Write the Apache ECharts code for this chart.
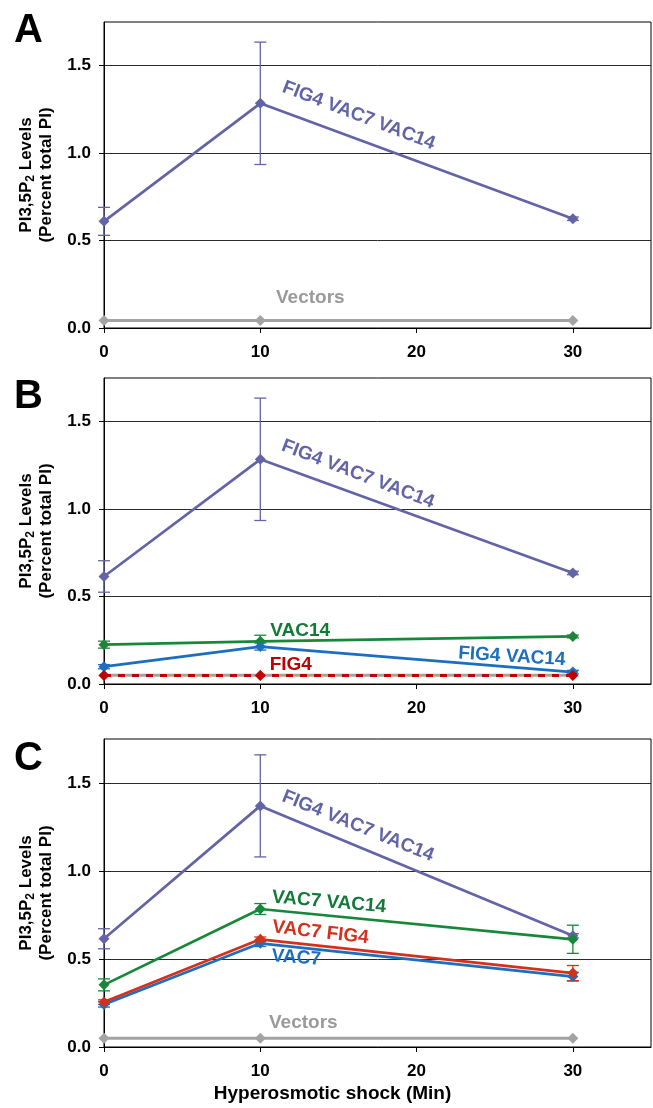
<!DOCTYPE html>
<html>
<head>
<meta charset="utf-8">
<script src="https://cdn.jsdelivr.net/npm/echarts@6/dist/echarts.min.js"></script>
<style>
html,body{margin:0;padding:0;background:#fff;}
#chart{width:653px;height:1108px;}
</style>
</head>
<body>
<div id="chart"></div>
<script>
// ---------- data ----------
const timePoints = [0, 10, 30];
const xTicks = [0, 10, 20, 30];
const yTicks = [0, 0.5, 1.0, 1.5];
const panelLetters = ['A', 'B', 'C'];

// Panel A
const aFig4Vac7Vac14 = [0.61, 1.285, 0.625];
const aFig4Vac7Vac14Err = [0.08, 0.35, 0.01];
const aVectors = [0.043, 0.043, 0.043];

// Panel B
const bFig4Vac7Vac14 = [0.615, 1.285, 0.635];
const bFig4Vac7Vac14Err = [0.09, 0.35, 0.01];
const bVac14 = [0.225, 0.244, 0.272];
const bVac14Err = [0.02, 0.035, 0.008];
const bFig4Vac14 = [0.099, 0.214, 0.068];
const bFig4Vac14Err = [0.012, 0.02, 0.01];
const bFig4 = [0.048, 0.048, 0.048];
const bVectors = [0.05, 0.05, 0.05];

// Panel C
const cFig4Vac7Vac14 = [0.615, 1.37, 0.632];
const cFig4Vac7Vac14Err = [0.057, 0.29, 0.012];
const cVac7Vac14 = [0.353, 0.784, 0.612];
const cVac7Vac14Err = [0.034, 0.031, 0.08];
const cVac7Fig4 = [0.255, 0.612, 0.42];
const cVac7Fig4Err = [0.013, 0.013, 0.043];
const cVac7 = [0.242, 0.589, 0.4];
const cVac7Err = [0.015, 0.018, 0.025];
const cVectors = [0.05, 0.05, 0.05];

// text annotations: [panel, x, y, text, rotate, colorKey]
const annotations = [
  [0, 16.3, 1.215, 'FIG4 VAC7 VAC14', -21, 'purple'],
  [0, 13.2, 0.175, 'Vectors', 0, 'gray'],
  [1, 16.25, 1.2, 'FIG4 VAC7 VAC14', -21, 'purple'],
  [1, 12.55, 0.304, 'VAC14', 0, 'greenText'],
  [1, 26.1, 0.157, 'FIG4 VAC14', -3.5, 'blue'],
  [1, 11.95, 0.11, 'FIG4', 0, 'redB'],
  [2, 16.25, 1.255, 'FIG4 VAC7 VAC14', -22, 'purple'],
  [2, 14.4, 0.823, 'VAC7 VAC14', -5, 'greenText'],
  [2, 13.85, 0.65, 'VAC7 FIG4', -6.5, 'redC'],
  [2, 12.3, 0.507, 'VAC7', -4, 'blue'],
  [2, 12.75, 0.135, 'Vectors', 0, 'gray']
];

// ---------- styles ----------
const FONT = '"Liberation Sans", Arial, Helvetica, sans-serif';
const COLORS = {
  purple: '#6264a7',
  gray: '#a3a3a3',
  grayText: '#9a9a9a',
  green: '#17883a',
  greenText: '#127a36',
  blue: '#1c6ec0',
  redB: '#c00000',
  redC: '#d4311c'
};
const grids = [
  {left: 104, top: 22, width: 547, height: 306},
  {left: 104, top: 378, width: 547, height: 306},
  {left: 104, top: 739, width: 547, height: 308}
];
const letterY = [27, 393, 755];

function pairs(vals) { return timePoints.map((t, i) => [t, vals[i]]); }

function lineSeries(p, vals, color, opts) {
  opts = opts || {};
  return {
    type: 'line',
    xAxisIndex: p, yAxisIndex: p,
    data: pairs(vals),
    symbol: 'diamond',
    symbolSize: opts.symbolSize || 11,
    showSymbol: true,
    lineStyle: {color: color, width: opts.width || 2.7, type: opts.dash || 'solid'},
    itemStyle: {color: color, opacity: 1},
    z: opts.z || 5,
    silent: true,
    animation: false
  };
}

function errSeries(p, vals, errs, color) {
  return {
    type: 'custom',
    xAxisIndex: p, yAxisIndex: p,
    data: timePoints.map((t, i) => [t, vals[i] - errs[i], vals[i] + errs[i]]),
    renderItem: function (params, api) {
      const lo = api.coord([api.value(0), api.value(1)]);
      const hi = api.coord([api.value(0), api.value(2)]);
      const hw = 6;
      const st = {stroke: color, lineWidth: 1.3};
      return {
        type: 'group',
        children: [
          {type: 'line', shape: {x1: lo[0], y1: lo[1], x2: hi[0], y2: hi[1]}, style: st},
          {type: 'line', shape: {x1: lo[0] - hw, y1: lo[1], x2: lo[0] + hw, y2: lo[1]}, style: st},
          {type: 'line', shape: {x1: hi[0] - hw, y1: hi[1], x2: hi[0] + hw, y2: hi[1]}, style: st}
        ]
      };
    },
    z: 4,
    silent: true,
    animation: false
  };
}

function annotationSeries(a) {
  const col = a[5] === 'gray' ? COLORS.grayText : COLORS[a[5]];
  return {
    type: 'scatter',
    xAxisIndex: a[0], yAxisIndex: a[0],
    data: [[a[1], a[2]]],
    symbolSize: 0,
    silent: true,
    animation: false,
    z: 10,
    itemStyle: {opacity: 1},
    label: {
      show: true,
      position: 'inside',
      formatter: a[3],
      rotate: a[4],
      color: col,
      opacity: 1,
      fontFamily: FONT,
      fontWeight: 'bold',
      fontSize: 19
    }
  };
}

const xAxes = grids.map((g, i) => ({
  type: 'value', gridIndex: i, min: 0, max: 35, interval: 10,
  axisLine: {show: true, onZero: false, lineStyle: {color: '#000', width: 1}},
  axisTick: {show: true, length: 5, customValues: xTicks, lineStyle: {color: '#000', width: 1}},
  axisLabel: {
    show: true, margin: 16, customValues: xTicks,
    color: '#000', fontFamily: FONT, fontWeight: 'bold', fontSize: 17,
    formatter: v => (xTicks.indexOf(v) >= 0 ? String(v) : '')
  },
  splitLine: {show: false},
  name: i === 2 ? 'Hyperosmotic shock (Min)' : '',
  nameLocation: 'middle',
  nameGap: 37,
  nameTextStyle: {color: '#000', fontFamily: FONT, fontWeight: 'bold', fontSize: 19, padding: [0, 90, 0, 0]}
}));

const yAxes = grids.map((g, i) => ({
  type: 'value', gridIndex: i, min: 0, max: 1.75, interval: 0.5,
  axisLine: {show: true, onZero: false, lineStyle: {color: '#000', width: 1}},
  axisTick: {show: true, length: 5, customValues: yTicks, lineStyle: {color: '#000', width: 1}},
  axisLabel: {
    show: true, margin: 13, customValues: yTicks,
    color: '#000', fontFamily: FONT, fontWeight: 'bold', fontSize: 17,
    formatter: v => (yTicks.some(t => Math.abs(t - v) < 1e-9) ? v.toFixed(1) : '')
  },
  splitLine: {show: true, lineStyle: {color: '#2a2a2a', width: 1}},
  name: '{t|PI3,5P}{s|2}{t| Levels}\n{t|(Percent total PI)}',
  nameLocation: 'middle',
  nameGap: 47,
  nameTextStyle: {
    color: '#000', fontFamily: FONT, fontWeight: 'bold', fontSize: 17, lineHeight: 20,
    rich: {
      t: {color: '#000', fontFamily: FONT, fontWeight: 'bold', fontSize: 17, lineHeight: 20},
      s: {color: '#000', fontFamily: FONT, fontWeight: 'bold', fontSize: 12, lineHeight: 12, verticalAlign: 'bottom'}
    }
  }
}));

const series = [
  // Panel A
  lineSeries(0, aVectors, COLORS.gray, {width: 3}),
  errSeries(0, aFig4Vac7Vac14, aFig4Vac7Vac14Err, COLORS.purple),
  lineSeries(0, aFig4Vac7Vac14, COLORS.purple),
  // Panel B
  lineSeries(1, bVectors, COLORS.gray, {width: 3, z: 3}),
  lineSeries(1, bFig4, COLORS.redB, {width: 3, dash: [7, 7], z: 6}),
  errSeries(1, bFig4Vac7Vac14, bFig4Vac7Vac14Err, COLORS.purple),
  lineSeries(1, bFig4Vac7Vac14, COLORS.purple),
  errSeries(1, bVac14, bVac14Err, COLORS.green),
  lineSeries(1, bVac14, COLORS.green),
  errSeries(1, bFig4Vac14, bFig4Vac14Err, COLORS.blue),
  lineSeries(1, bFig4Vac14, COLORS.blue),
  // Panel C
  lineSeries(2, cVectors, COLORS.gray, {width: 3}),
  errSeries(2, cFig4Vac7Vac14, cFig4Vac7Vac14Err, COLORS.purple),
  lineSeries(2, cFig4Vac7Vac14, COLORS.purple),
  errSeries(2, cVac7Vac14, cVac7Vac14Err, COLORS.green),
  lineSeries(2, cVac7Vac14, COLORS.green),
  errSeries(2, cVac7, cVac7Err, COLORS.blue),
  lineSeries(2, cVac7, COLORS.blue),
  errSeries(2, cVac7Fig4, cVac7Fig4Err, COLORS.redC),
  lineSeries(2, cVac7Fig4, COLORS.redC, {z: 6})
].concat(annotations.map(annotationSeries));

const chart = echarts.init(document.getElementById('chart'), null, {renderer: 'canvas'});
chart.setOption({
  animation: false,
  backgroundColor: '#fff',
  grid: grids.map(g => Object.assign({show: true, borderColor: '#000', borderWidth: 1, backgroundColor: 'transparent', containLabel: false}, g)),
  xAxis: xAxes,
  yAxis: yAxes,
  graphic: panelLetters.map((L, i) => ({
    type: 'text', left: 14, top: letterY[i] - 16,
    style: {text: L, fill: '#000', font: 'bold 40px ' + FONT}
  })),
  series: series
});
</script>
</body>
</html>
